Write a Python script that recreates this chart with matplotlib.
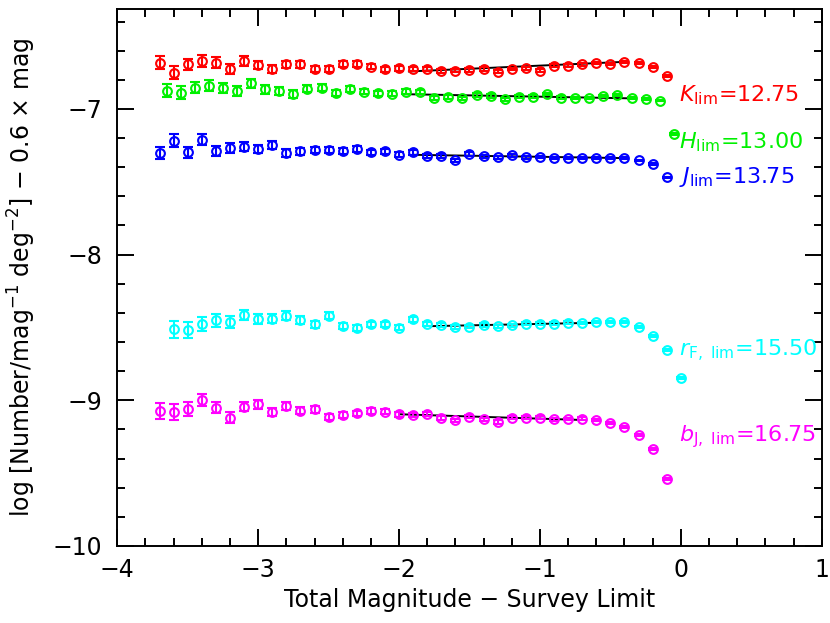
import numpy as np
import matplotlib
matplotlib.use('Agg')
import matplotlib.pyplot as plt
from matplotlib.ticker import MultipleLocator

# magnitude offsets (total magnitude - survey limit)
x_K = [-3.7, -3.6, -3.5, -3.4, -3.3, -3.2, -3.1, -3.0, -2.9, -2.8, -2.7, -2.6, -2.5,
       -2.4, -2.3, -2.2, -2.1, -2.0, -1.9, -1.8, -1.7, -1.6, -1.5, -1.4, -1.3, -1.2,
       -1.1, -1.0, -0.9, -0.8, -0.7, -0.6, -0.5, -0.4, -0.3, -0.2, -0.1]
x_H = [-3.65, -3.55, -3.45, -3.35, -3.25, -3.15, -3.05, -2.95, -2.85, -2.75, -2.65,
       -2.55, -2.45, -2.35, -2.25, -2.15, -2.05, -1.95, -1.85, -1.75, -1.65, -1.55,
       -1.45, -1.35, -1.25, -1.15, -1.05, -0.95, -0.85, -0.75, -0.65, -0.55, -0.45,
       -0.35, -0.25, -0.15, -0.05]
x_J = x_K
x_r = [-3.6, -3.5, -3.4, -3.3, -3.2, -3.1, -3.0, -2.9, -2.8, -2.7, -2.6, -2.5, -2.4,
       -2.3, -2.2, -2.1, -2.0, -1.9, -1.8, -1.7, -1.6, -1.5, -1.4, -1.3, -1.2, -1.1,
       -1.0, -0.9, -0.8, -0.7, -0.6, -0.5, -0.4, -0.3, -0.2, -0.1, 0.0]
x_b = x_K

y_K = [-6.683, -6.751, -6.694, -6.671, -6.683, -6.726, -6.671, -6.699, -6.726, -6.694,
       -6.694, -6.728, -6.728, -6.694, -6.692, -6.710, -6.728, -6.721, -6.728, -6.728,
       -6.740, -6.738, -6.733, -6.726, -6.745, -6.726, -6.721, -6.738, -6.703, -6.703,
       -6.694, -6.687, -6.692, -6.680, -6.687, -6.714, -6.774]
y_H = [-6.875, -6.888, -6.854, -6.842, -6.858, -6.875, -6.824, -6.865, -6.875, -6.899,
       -6.863, -6.854, -6.892, -6.865, -6.882, -6.892, -6.897, -6.882, -6.882, -6.927,
       -6.916, -6.927, -6.904, -6.911, -6.934, -6.916, -6.916, -6.897, -6.923, -6.923,
       -6.927, -6.911, -6.904, -6.923, -6.934, -6.943, -7.173]
y_J = [-7.303, -7.217, -7.299, -7.212, -7.288, -7.269, -7.258, -7.276, -7.249, -7.303,
       -7.292, -7.281, -7.281, -7.288, -7.276, -7.299, -7.292, -7.315, -7.299, -7.322,
       -7.322, -7.354, -7.310, -7.326, -7.331, -7.317, -7.331, -7.331, -7.336, -7.336,
       -7.336, -7.336, -7.336, -7.336, -7.354, -7.377, -7.470]
y_r = [-8.514, -8.518, -8.475, -8.452, -8.461, -8.416, -8.440, -8.440, -8.418, -8.450,
       -8.477, -8.418, -8.491, -8.502, -8.479, -8.479, -8.502, -8.445, -8.475, -8.486,
       -8.498, -8.495, -8.484, -8.491, -8.486, -8.473, -8.473, -8.473, -8.468, -8.468,
       -8.461, -8.461, -8.463, -8.495, -8.559, -8.655, -8.847]
y_b = [-9.073, -9.078, -9.057, -8.998, -9.050, -9.119, -9.043, -9.027, -9.080, -9.039,
       -9.073, -9.062, -9.112, -9.101, -9.089, -9.073, -9.078, -9.096, -9.103, -9.091,
       -9.119, -9.137, -9.112, -9.130, -9.149, -9.119, -9.119, -9.119, -9.130, -9.130,
       -9.125, -9.135, -9.153, -9.183, -9.238, -9.336, -9.541]

# error bars (near-infrared and optical samples)
err_ir = [0.044, 0.044, 0.040, 0.038, 0.036, 0.034, 0.032, 0.030, 0.028, 0.026,
          0.024, 0.022, 0.021, 0.020, 0.019, 0.018, 0.017, 0.016, 0.015, 0.014,
          0.013, 0.012, 0.012, 0.011, 0.011, 0.010, 0.010, 0.009, 0.009, 0.008,
          0.008, 0.007, 0.007, 0.007, 0.006, 0.006, 0.006]
err_opt = [0.056, 0.054, 0.048, 0.044, 0.040, 0.036, 0.033, 0.030, 0.028, 0.026,
           0.024, 0.022, 0.021, 0.020, 0.019, 0.018, 0.017, 0.016, 0.015, 0.014,
           0.013, 0.012, 0.012, 0.011, 0.011, 0.010, 0.010, 0.009, 0.009, 0.008,
           0.008, 0.007, 0.007, 0.007, 0.006, 0.006, 0.006]

# fitted flat segments
fit_K = ([-1.93, -0.38], [-6.743, -6.676])
fit_H = ([-1.95, -0.38], [-6.899, -6.927])
fit_J = ([-1.90, -0.38], [-7.315, -7.338])
fit_r = ([-1.77, -0.62], [-8.491, -8.468])
fit_b = ([-1.99, -0.70], [-9.096, -9.135])

labels = [r'$K_{\rm lim}$=12.75', r'$H_{\rm lim}$=13.00', r'$J_{\rm lim}$=13.75',
          r'$r_{\rm F,\ lim}$=15.50', r'$b_{\rm J,\ lim}$=16.75']
label_y = [-6.904, -7.226, -7.466, -8.664, -9.247]
colors = ['#ff0000', '#00f000', '#0000ff', '#00ffff', '#ff00ff']

series = [(x_K, y_K, err_ir, fit_K), (x_H, y_H, err_ir, fit_H), (x_J, y_J, err_ir, fit_J),
          (x_r, y_r, err_opt, fit_r), (x_b, y_b, err_opt, fit_b)]

plt.rcParams['font.family'] = ['DejaVu Sans']
plt.rcParams['mathtext.fontset'] = 'dejavusans'

fig = plt.figure(figsize=(8.3, 6.23), dpi=100)
ax = fig.add_axes([0.1413, 0.1236, 0.8487, 0.862])

for (xs, ys, es, fit), c, lab, ly in zip(series, colors, labels, label_y):
    ax.plot(fit[0], fit[1], color='black', lw=1.4, zorder=3)
    ax.errorbar(xs, ys, yerr=es, fmt='o', mfc='none', mec=c, ecolor=c, ms=6.3,
                mew=1.5, elinewidth=1.5, capsize=3.4, capthick=1.5, zorder=4)
    ax.text(-0.01, ly, lab, color=c, fontsize=16, ha='left', va='center')

ax.set_xlim(-4, 1)
ax.set_ylim(-10, -6.314)
ax.xaxis.set_major_locator(MultipleLocator(1))
ax.xaxis.set_minor_locator(MultipleLocator(0.2))
ax.yaxis.set_major_locator(MultipleLocator(1))
ax.yaxis.set_minor_locator(MultipleLocator(0.2))
ax.tick_params(which='both', direction='in', top=True, right=True, width=1.4,
               labelsize=17)
ax.tick_params(axis='x', pad=9)
ax.tick_params(axis='y', pad=11)
ax.tick_params(which='major', length=12)
ax.tick_params(which='minor', length=6)
for s in ax.spines.values():
    s.set_linewidth(1.4)

ax.set_xlabel('Total Magnitude − Survey Limit', fontsize=17, labelpad=4)
ax.set_ylabel(r'log [Number/mag$^{-1}$ deg$^{-2}$] − 0.6 × mag', fontsize=17,
              labelpad=10)

fig.savefig('out.png', dpi=100)
